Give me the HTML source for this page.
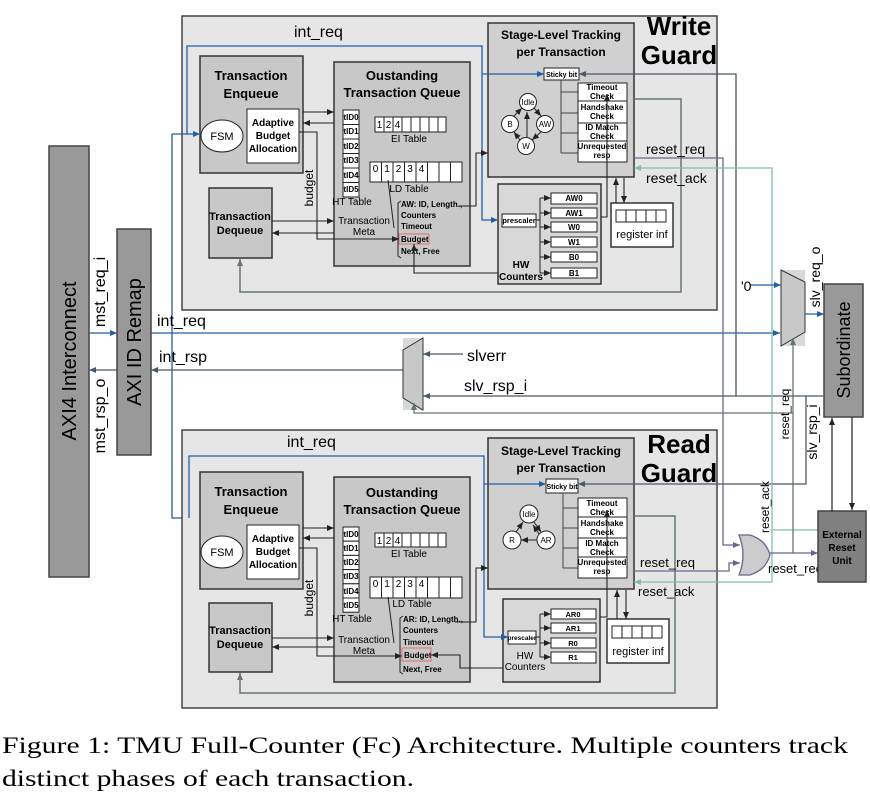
<!DOCTYPE html>
<html><head><meta charset="utf-8"><style>
html,body{margin:0;padding:0;background:#fff;}
svg{display:block;font-family:"Liberation Sans",sans-serif;}
.b{font-weight:bold;}
.cap{font-family:"Liberation Serif",serif;}
</style></head><body>
<svg width="870" height="800" viewBox="0 0 870 800" xmlns="http://www.w3.org/2000/svg">
<defs>
<marker id="ak" markerWidth="8" markerHeight="8" refX="7" refY="4" orient="auto" markerUnits="userSpaceOnUse"><path d="M0,1 L7,4 L0,7 Z" fill="#222"/></marker>
<marker id="ab" markerWidth="8" markerHeight="8" refX="7" refY="4" orient="auto" markerUnits="userSpaceOnUse"><path d="M0,1 L7,4 L0,7 Z" fill="#1f5fa8"/></marker>
<marker id="as" markerWidth="8" markerHeight="8" refX="7" refY="4" orient="auto" markerUnits="userSpaceOnUse"><path d="M0,1 L7,4 L0,7 Z" fill="#4a5868"/></marker>
<marker id="ag" markerWidth="8" markerHeight="8" refX="7" refY="4" orient="auto" markerUnits="userSpaceOnUse"><path d="M0,1 L7,4 L0,7 Z" fill="#66766f"/></marker>
<marker id="ap" markerWidth="8" markerHeight="8" refX="7" refY="4" orient="auto" markerUnits="userSpaceOnUse"><path d="M0,1 L7,4 L0,7 Z" fill="#6b6390"/></marker>
<marker id="at" markerWidth="8" markerHeight="8" refX="7" refY="4" orient="auto" markerUnits="userSpaceOnUse"><path d="M0,1 L7,4 L0,7 Z" fill="#7fbfb0"/></marker>
</defs>

<!-- ===== WRITE GUARD ===== -->
<rect x="182" y="16" width="535" height="294" fill="#e6e6e6" stroke="#444" stroke-width="1.5"/>
<text x="679" y="35" font-size="26" class="b" text-anchor="middle">Write</text>
<text x="679" y="64" font-size="26" class="b" text-anchor="middle">Guard</text>
<text x="294" y="37" font-size="16">int_req</text>

<rect x="200" y="56" width="103" height="117" fill="#c8c8c8" stroke="#333" stroke-width="1.5"/>
<text x="251" y="80" font-size="13" class="b" text-anchor="middle">Transaction</text>
<text x="251" y="98" font-size="13" class="b" text-anchor="middle">Enqueue</text>
<ellipse cx="222" cy="136" rx="21" ry="16" fill="#fff" stroke="#222"/>
<text x="222" y="140" font-size="11" text-anchor="middle">FSM</text>
<rect x="247" y="109" width="52" height="54" fill="#fff" stroke="#222"/>
<text x="273" y="126" font-size="10" class="b" text-anchor="middle">Adaptive</text>
<text x="273" y="139" font-size="10" class="b" text-anchor="middle">Budget</text>
<text x="273" y="152" font-size="10" class="b" text-anchor="middle">Allocation</text>

<rect x="209" y="188" width="63" height="70" fill="#c8c8c8" stroke="#333" stroke-width="1.5"/>
<text x="240" y="220" font-size="11" class="b" text-anchor="middle">Transaction</text>
<text x="240" y="234" font-size="11" class="b" text-anchor="middle">Dequeue</text>

<rect x="334" y="62" width="136" height="204" fill="#c8c8c8" stroke="#333" stroke-width="1.5"/>
<text x="402" y="80" font-size="13" class="b" text-anchor="middle">Oustanding</text>
<text x="402" y="97" font-size="13" class="b" text-anchor="middle">Transaction Queue</text>
<g fill="#fff" stroke="#222">
<rect x="343" y="110" width="16" height="14.5"/><rect x="343" y="124.5" width="16" height="14.5"/><rect x="343" y="139" width="16" height="14.5"/><rect x="343" y="153.5" width="16" height="14.5"/><rect x="343" y="168" width="16" height="14.5"/><rect x="343" y="182.5" width="16" height="14.5"/>
</g>
<g font-size="8" class="b" text-anchor="middle"><text x="351" y="120">tID0</text><text x="351" y="134">tID1</text><text x="351" y="149">tID2</text><text x="351" y="163">tID3</text><text x="351" y="178">tID4</text><text x="351" y="192">tID5</text></g>
<text x="352" y="205" font-size="10" text-anchor="middle">HT Table</text>
<g fill="#fff" stroke="#222"><rect x="375" y="117" width="71" height="15"/></g>
<g stroke="#222"><line x1="384" y1="117" x2="384" y2="132"/><line x1="393" y1="117" x2="393" y2="132"/><line x1="402" y1="117" x2="402" y2="132"/><line x1="411" y1="117" x2="411" y2="132"/><line x1="420" y1="117" x2="420" y2="132"/><line x1="429" y1="117" x2="429" y2="132"/><line x1="438" y1="117" x2="438" y2="132"/></g>
<g font-size="10" text-anchor="middle"><text x="379.5" y="128">1</text><text x="388.5" y="128">2</text><text x="397.5" y="128">4</text></g>
<text x="409" y="142" font-size="10" text-anchor="middle">EI Table</text>
<rect x="370" y="162" width="92" height="20" fill="#fff" stroke="#222"/>
<g stroke="#222"><line x1="381.5" y1="162" x2="381.5" y2="182"/><line x1="393" y1="162" x2="393" y2="182"/><line x1="404.5" y1="162" x2="404.5" y2="182"/><line x1="416" y1="162" x2="416" y2="182"/><line x1="427.5" y1="162" x2="427.5" y2="182"/><line x1="439" y1="162" x2="439" y2="182"/><line x1="450.5" y1="162" x2="450.5" y2="182"/></g>
<g font-size="10" text-anchor="middle"><text x="375.5" y="172">0</text><text x="387" y="172">1</text><text x="398.5" y="172">2</text><text x="410" y="172">3</text><text x="421.5" y="172">4</text></g>
<text x="409" y="192" font-size="10" text-anchor="middle">LD Table</text>
<text x="364" y="224" font-size="10" text-anchor="middle">Transaction</text>
<text x="364" y="235" font-size="10" text-anchor="middle">Meta</text>
<g font-size="8" class="b"><text x="401" y="207">AW: ID, Length.,</text><text x="401" y="218">Counters</text><text x="401" y="229">Timeout</text><text x="401" y="242">Budget</text><text x="401" y="254">Next, Free</text></g>
<rect x="399" y="234" width="30" height="10" fill="none" stroke="#e07070"/>
<path d="M401,201 L398,203 L398,256 L401,258" fill="none" stroke="#222"/>
<line x1="388" y1="180" x2="394" y2="228" stroke="#222"/>

<rect x="488" y="23" width="146" height="154" fill="#d0d0d0" stroke="#333" stroke-width="1.5"/>
<text x="561" y="39" font-size="12" class="b" text-anchor="middle">Stage-Level Tracking</text>
<text x="561" y="56" font-size="12" class="b" text-anchor="middle">per Transaction</text>
<rect x="544" y="68" width="35" height="12" fill="#fff" stroke="#222"/>
<text x="561.5" y="77" font-size="7" class="b" text-anchor="middle">Sticky bit</text>
<g stroke="#444" fill="none"><path d="M561,80 L561,153"/><line x1="561" y1="92" x2="578" y2="92"/><line x1="561" y1="113" x2="578" y2="113"/><line x1="561" y1="133" x2="578" y2="133"/><line x1="561" y1="153" x2="578" y2="153"/></g>
<g fill="#fff" stroke="#222"><rect x="578" y="83" width="49" height="18"/><rect x="578" y="101" width="49" height="22"/><rect x="578" y="123" width="49" height="18"/><rect x="578" y="141" width="49" height="21"/></g>
<g font-size="8" class="b" text-anchor="middle"><text x="602" y="90">Timeout</text><text x="602" y="99">Check</text><text x="602" y="110">Handshake</text><text x="602" y="119">Check</text><text x="602" y="130">ID Match</text><text x="602" y="139">Check</text><text x="602" y="149">Unrequested</text><text x="602" y="158">resp</text></g>
<g stroke="#222" fill="#fff"><circle cx="528" cy="102" r="8.5"/><circle cx="510" cy="124" r="8.5"/><circle cx="545" cy="124" r="8.5"/><circle cx="526" cy="146" r="8.5"/></g>
<g font-size="8" text-anchor="middle"><text x="528" y="105">Idle</text><text x="510" y="127">B</text><text x="545" y="127">AW</text><text x="526" y="149">W</text></g>
<g stroke="#222" fill="none" marker-end="url(#ak)"><line x1="514" y1="116" x2="522" y2="108"/><line x1="534" y1="108" x2="541" y2="116"/><line x1="541" y1="132" x2="532" y2="140"/><line x1="520" y1="140" x2="514" y2="132"/><line x1="527" y1="137" x2="527" y2="112"/></g>

<rect x="498" y="184" width="103" height="100" fill="#d8d8d8" stroke="#333" stroke-width="1.5"/>
<text x="521" y="268" font-size="10" class="b" text-anchor="middle">HW</text>
<text x="521" y="280" font-size="10" class="b" text-anchor="middle">Counters</text>
<g fill="#fff" stroke="#222"><rect x="551" y="193" width="46" height="11"/><rect x="551" y="208" width="46" height="10"/><rect x="551" y="222" width="46" height="10"/><rect x="551" y="237" width="46" height="10"/><rect x="551" y="252" width="46" height="10"/><rect x="551" y="268" width="46" height="10"/></g>
<g font-size="8" class="b" text-anchor="middle"><text x="574" y="201">AW0</text><text x="574" y="216">AW1</text><text x="574" y="230">W0</text><text x="574" y="245">W1</text><text x="574" y="260">B0</text><text x="574" y="276">B1</text></g>
<rect x="502" y="214" width="34" height="13" fill="#fff" stroke="#222"/>
<text x="519" y="223" font-size="7.5" class="b" text-anchor="middle">prescaler</text>
<g stroke="#222" fill="none"><line x1="536" y1="220" x2="540" y2="220"/><line x1="540" y1="198" x2="540" y2="273"/></g>
<g stroke="#222" marker-end="url(#ak)"><line x1="540" y1="198" x2="551" y2="198"/><line x1="540" y1="213" x2="551" y2="213"/><line x1="540" y1="227" x2="551" y2="227"/><line x1="540" y1="242" x2="551" y2="242"/><line x1="540" y1="257" x2="551" y2="257"/><line x1="540" y1="273" x2="551" y2="273"/></g>
<rect x="611" y="203" width="62" height="44" fill="#fff" stroke="#333" stroke-width="1.5"/>
<rect x="616" y="210" width="50" height="12" fill="#fff" stroke="#222"/>
<g stroke="#222"><line x1="626" y1="210" x2="626" y2="222"/><line x1="636" y1="210" x2="636" y2="222"/><line x1="646" y1="210" x2="646" y2="222"/><line x1="656" y1="210" x2="656" y2="222"/></g>
<text x="642" y="238" font-size="11" text-anchor="middle">register inf</text>

<!-- write connectors -->
<g fill="none" stroke="#1f5fa8" stroke-width="1.3">
<path d="M187,134 L187,46 L482,46 L482,220 L498,220" marker-end="url(#ab)"/>
<path d="M482,74 L544,74" marker-end="url(#ab)"/>
<path d="M172,134 L200,134" marker-end="url(#ab)"/>
<path d="M172,134 L172,518 L200,518" marker-end="url(#ab)"/>
</g>
<g fill="none" stroke="#222" stroke-width="1.1">
<path d="M303,112 L334,112" marker-end="url(#ak)"/>
<path d="M334,123 L303,123" marker-end="url(#ak)"/>
<path d="M299,132 L317,132 L317,239 L399,239" marker-end="url(#ak)"/>
<path d="M272,221 L334,221" marker-end="url(#ak)"/>
<path d="M334,233 L272,233" marker-end="url(#ak)"/>
<path d="M459,206 L476,206 L476,153 L488,153" marker-end="url(#ak)"/>
<path d="M498,273 L414,273 L414,244" marker-end="url(#ak)"/>
<path d="M601,217 L607,217 L607,94" marker-end="url(#ak)"/>
<path d="M616,203 L616,178" marker-end="url(#ak)"/>
<path d="M624,178 L624,203" marker-end="url(#ak)"/>
</g>
<text transform="translate(313,188) rotate(-90)" font-size="12" text-anchor="middle">budget</text>
<path d="M634,99 L681,99 L681,292 L240,292 L240,259" fill="none" stroke="#66766f" stroke-width="1.5" marker-end="url(#ag)"/>

<!-- ===== READ GUARD ===== -->
<rect x="182" y="430" width="535" height="278" fill="#e6e6e6" stroke="#444" stroke-width="1.5"/>
<text x="679" y="453" font-size="26" class="b" text-anchor="middle">Read</text>
<text x="679" y="482" font-size="26" class="b" text-anchor="middle">Guard</text>
<text x="287" y="447" font-size="16">int_req</text>

<rect x="200" y="472" width="103" height="117" fill="#c8c8c8" stroke="#333" stroke-width="1.5"/>
<text x="251" y="496" font-size="13" class="b" text-anchor="middle">Transaction</text>
<text x="251" y="514" font-size="13" class="b" text-anchor="middle">Enqueue</text>
<ellipse cx="222" cy="552" rx="21" ry="16" fill="#fff" stroke="#222"/>
<text x="222" y="556" font-size="11" text-anchor="middle">FSM</text>
<rect x="247" y="525" width="52" height="54" fill="#fff" stroke="#222"/>
<text x="273" y="542" font-size="10" class="b" text-anchor="middle">Adaptive</text>
<text x="273" y="555" font-size="10" class="b" text-anchor="middle">Budget</text>
<text x="273" y="568" font-size="10" class="b" text-anchor="middle">Allocation</text>

<rect x="209" y="603" width="63" height="69" fill="#c8c8c8" stroke="#333" stroke-width="1.5"/>
<text x="240" y="634" font-size="11" class="b" text-anchor="middle">Transaction</text>
<text x="240" y="648" font-size="11" class="b" text-anchor="middle">Dequeue</text>

<rect x="334" y="477" width="136" height="205" fill="#c8c8c8" stroke="#333" stroke-width="1.5"/>
<text x="402" y="497" font-size="13" class="b" text-anchor="middle">Oustanding</text>
<text x="402" y="514" font-size="13" class="b" text-anchor="middle">Transaction Queue</text>
<g fill="#fff" stroke="#222">
<rect x="343" y="527" width="16" height="14.2"/><rect x="343" y="541.2" width="16" height="14.2"/><rect x="343" y="555.4" width="16" height="14.2"/><rect x="343" y="569.6" width="16" height="14.2"/><rect x="343" y="583.8" width="16" height="14.2"/><rect x="343" y="598" width="16" height="14.2"/>
</g>
<g font-size="8" class="b" text-anchor="middle"><text x="351" y="537">tID0</text><text x="351" y="551">tID1</text><text x="351" y="565">tID2</text><text x="351" y="579">tID3</text><text x="351" y="594">tID4</text><text x="351" y="608">tID5</text></g>
<text x="352" y="622" font-size="10" text-anchor="middle">HT Table</text>
<rect x="375" y="533" width="71" height="14" fill="#fff" stroke="#222"/>
<g stroke="#222"><line x1="384" y1="533" x2="384" y2="547"/><line x1="393" y1="533" x2="393" y2="547"/><line x1="402" y1="533" x2="402" y2="547"/><line x1="411" y1="533" x2="411" y2="547"/><line x1="420" y1="533" x2="420" y2="547"/><line x1="429" y1="533" x2="429" y2="547"/><line x1="438" y1="533" x2="438" y2="547"/></g>
<g font-size="10" text-anchor="middle"><text x="379.5" y="544">1</text><text x="388.5" y="544">2</text><text x="397.5" y="544">4</text></g>
<text x="409" y="557" font-size="10" text-anchor="middle">EI Table</text>
<rect x="370" y="577" width="92" height="21" fill="#fff" stroke="#222"/>
<g stroke="#222"><line x1="381.5" y1="577" x2="381.5" y2="598"/><line x1="393" y1="577" x2="393" y2="598"/><line x1="404.5" y1="577" x2="404.5" y2="598"/><line x1="416" y1="577" x2="416" y2="598"/><line x1="427.5" y1="577" x2="427.5" y2="598"/><line x1="439" y1="577" x2="439" y2="598"/><line x1="450.5" y1="577" x2="450.5" y2="598"/></g>
<g font-size="10" text-anchor="middle"><text x="375.5" y="587">0</text><text x="387" y="587">1</text><text x="398.5" y="587">2</text><text x="410" y="587">3</text><text x="421.5" y="587">4</text></g>
<text x="412" y="607" font-size="10" text-anchor="middle">LD Table</text>
<text x="364" y="643" font-size="10" text-anchor="middle">Transaction</text>
<text x="364" y="654" font-size="10" text-anchor="middle">Meta</text>
<g font-size="8" class="b"><text x="403" y="622">AR: ID, Length.,</text><text x="403" y="633">Counters</text><text x="403" y="645">Timeout</text><text x="404" y="658">Budget</text><text x="403" y="672">Next, Free</text></g>
<rect x="402" y="648" width="29" height="13" fill="none" stroke="#e07070"/>
<path d="M403,616 L400,618 L400,672 L403,674" fill="none" stroke="#222"/>
<line x1="388" y1="597" x2="394" y2="643" stroke="#222"/>

<rect x="488" y="438" width="146" height="151" fill="#d0d0d0" stroke="#333" stroke-width="1.5"/>
<text x="561" y="455" font-size="12" class="b" text-anchor="middle">Stage-Level Tracking</text>
<text x="561" y="472" font-size="12" class="b" text-anchor="middle">per Transaction</text>
<rect x="546" y="479" width="32" height="14" fill="#fff" stroke="#222"/>
<text x="562" y="489" font-size="7" class="b" text-anchor="middle">Sticky bit</text>
<g stroke="#444" fill="none"><path d="M563,493 L563,568"/><line x1="563" y1="508" x2="578" y2="508"/><line x1="563" y1="528" x2="578" y2="528"/><line x1="563" y1="548" x2="578" y2="548"/><line x1="563" y1="568" x2="578" y2="568"/></g>
<g fill="#fff" stroke="#222"><rect x="578" y="498" width="49" height="19"/><rect x="578" y="517" width="49" height="21"/><rect x="578" y="538" width="49" height="19"/><rect x="578" y="557" width="49" height="21"/></g>
<g font-size="8" class="b" text-anchor="middle"><text x="602" y="506">Timeout</text><text x="602" y="515">Check</text><text x="602" y="526">Handshake</text><text x="602" y="535">Check</text><text x="602" y="546">ID Match</text><text x="602" y="555">Check</text><text x="602" y="565">Unrequested</text><text x="602" y="574">resp</text></g>
<g stroke="#222" fill="#fff"><circle cx="529" cy="514" r="9"/><circle cx="512" cy="540" r="9"/><circle cx="546" cy="540" r="9"/></g>
<g font-size="8" text-anchor="middle"><text x="529" y="517">Idle</text><text x="512" y="543">R</text><text x="546" y="543">AR</text></g>
<g stroke="#222" fill="none" marker-end="url(#ak)"><line x1="516" y1="532" x2="523" y2="522"/><line x1="534" y1="522" x2="541" y2="532"/><line x1="539" y1="534" x2="533" y2="525"/><line x1="537" y1="540" x2="521" y2="540"/></g>

<rect x="503" y="599" width="97" height="83" fill="#d8d8d8" stroke="#333" stroke-width="1.5"/>
<text x="525" y="659" font-size="10" text-anchor="middle">HW</text>
<text x="525" y="670" font-size="10" text-anchor="middle">Counters</text>
<g fill="#fff" stroke="#222"><rect x="551" y="609" width="45" height="10"/><rect x="551" y="623" width="45" height="10"/><rect x="551" y="638" width="45" height="10"/><rect x="551" y="652" width="45" height="11"/></g>
<g font-size="7.5" class="b" text-anchor="middle"><text x="573" y="617">AR0</text><text x="573" y="631">AR1</text><text x="573" y="646">R0</text><text x="573" y="660">R1</text></g>
<rect x="508" y="631" width="28" height="13" fill="#fff" stroke="#222"/>
<text x="522" y="640" font-size="6.5" class="b" text-anchor="middle">prescaler</text>
<g stroke="#222" fill="none"><line x1="536" y1="637" x2="540" y2="637"/><line x1="540" y1="614" x2="540" y2="657"/></g>
<g stroke="#222" marker-end="url(#ak)"><line x1="540" y1="614" x2="551" y2="614"/><line x1="540" y1="628" x2="551" y2="628"/><line x1="540" y1="643" x2="551" y2="643"/><line x1="540" y1="657" x2="551" y2="657"/></g>
<rect x="607" y="619" width="62" height="44" fill="#fff" stroke="#333" stroke-width="1.5"/>
<rect x="612" y="626" width="50" height="12" fill="#fff" stroke="#222"/>
<g stroke="#222"><line x1="622" y1="626" x2="622" y2="638"/><line x1="632" y1="626" x2="632" y2="638"/><line x1="642" y1="626" x2="642" y2="638"/><line x1="652" y1="626" x2="652" y2="638"/></g>
<text x="638" y="655" font-size="11" text-anchor="middle">register inf</text>

<!-- read connectors -->
<g fill="none" stroke="#1f5fa8" stroke-width="1.3">
<path d="M189,518 L189,456 L484,456 L484,637 L508,637" marker-end="url(#ab)"/>
<path d="M484,484 L546,484" marker-end="url(#ab)"/>
</g>
<g fill="none" stroke="#222" stroke-width="1.1">
<path d="M303,528 L334,528" marker-end="url(#ak)"/>
<path d="M334,538 L303,538" marker-end="url(#ak)"/>
<path d="M299,548 L317,548 L317,656 L402,656" marker-end="url(#ak)"/>
<path d="M272,638 L334,638" marker-end="url(#ak)"/>
<path d="M334,647 L272,647" marker-end="url(#ak)"/>
<path d="M455,622 L476,622 L476,568 L488,568" marker-end="url(#ak)"/>
<path d="M503,668 L460,668 L460,655 L431,655" marker-end="url(#ak)"/>
<path d="M600,617 L607,617 L607,510" marker-end="url(#ak)"/>
<path d="M617,619 L617,590" marker-end="url(#ak)"/>
<path d="M626,590 L626,619" marker-end="url(#ak)"/>
</g>
<text transform="translate(313,598) rotate(-90)" font-size="12" text-anchor="middle">budget</text>
<path d="M634,516 L675,516 L675,693 L240,693 L240,673" fill="none" stroke="#66766f" stroke-width="1.5" marker-end="url(#ag)"/>

<!-- ===== LEFT ===== -->
<rect x="49" y="146" width="40" height="431" fill="#999" stroke="#444" stroke-width="1.5"/>
<text transform="translate(76,361) rotate(-90)" font-size="20" text-anchor="middle">AXI4  Interconnect</text>
<rect x="117" y="229" width="34" height="226" fill="#999" stroke="#444" stroke-width="1.5"/>
<text transform="translate(141,342) rotate(-90)" font-size="20" text-anchor="middle">AXI ID Remap</text>
<text transform="translate(105,292) rotate(-90)" font-size="16" text-anchor="middle">mst_req_i</text>
<text transform="translate(105,416) rotate(-90)" font-size="16" text-anchor="middle">mst_rsp_o</text>
<path d="M89,333 L117,333" stroke="#1f5fa8" stroke-width="1.3" marker-end="url(#ab)"/>
<path d="M117,370 L89,370" stroke="#4a5868" stroke-width="1.3" marker-end="url(#as)"/>
<path d="M151,333 L780,333" stroke="#1f5fa8" stroke-width="1.3" marker-end="url(#ab)"/>
<text x="157" y="326" font-size="16">int_req</text>
<path d="M403,370 L151,370" stroke="#4a5868" stroke-width="1.3" marker-end="url(#as)"/>
<text x="159" y="362" font-size="16">int_rsp</text>

<!-- response mux -->
<rect x="403" y="338" width="20" height="72" fill="#d8d8d8"/>
<polygon points="423,338 423,410 403,398 403,350" fill="#c8c8c8" stroke="#333"/>
<path d="M463,354 L423,354" stroke="#4a5868" stroke-width="1.3" marker-end="url(#as)"/>
<text x="467" y="361" font-size="16">slverr</text>
<path d="M823,396 L423,396" stroke="#4a5868" stroke-width="1.3" marker-end="url(#as)"/>
<text x="464" y="391" font-size="16">slv_rsp_i</text>
<path d="M736,396 L736,74 L579,74" fill="none" stroke="#4a5868" stroke-width="1.3" marker-end="url(#as)"/>
<path d="M806,396 L806,484 L578,484" fill="none" stroke="#4a5868" stroke-width="1.3" marker-end="url(#as)"/>

<!-- reset lines -->
<path d="M634,158 L723,158 L723,545 L740,545" fill="none" stroke="#6b6390" stroke-width="1.3" marker-end="url(#ap)"/>
<path d="M634,571 L729,571 L729,563 L740,563" fill="none" stroke="#6b6390" stroke-width="1.3" marker-end="url(#ap)"/>
<path d="M772,530 L772,168 L634,168" fill="none" stroke="#7fbfb0" stroke-width="1.3" marker-end="url(#at)"/>
<path d="M772,530 L772,582 L634,582" fill="none" stroke="#7fbfb0" stroke-width="1.3" marker-end="url(#at)"/>
<path d="M818,530 L772,530" fill="none" stroke="#7fbfb0" stroke-width="1.3"/>
<text x="646" y="154" font-size="14">reset_req</text>
<text x="646" y="183" font-size="14">reset_ack</text>
<text x="640" y="567" font-size="13">reset_req</text>
<text x="638" y="596" font-size="13">reset_ack</text>

<!-- write mux -->
<rect x="781" y="270" width="24" height="76" fill="#d8d8d8"/>
<polygon points="781,270 805,282 805,332 781,346" fill="#c8c8c8" stroke="#333"/>
<path d="M750,285 L781,285" stroke="#1f5fa8" stroke-width="1.3" marker-end="url(#ab)"/>
<text x="741" y="291" font-size="14">'0</text>
<path d="M805,314 L824,314" stroke="#1f5fa8" stroke-width="1.3" marker-end="url(#ab)"/>
<path d="M793,553 L793,338" fill="none" stroke="#66766f" stroke-width="1.3" marker-end="url(#ag)"/>
<path d="M793,413 L414,413 L414,403" fill="none" stroke="#66766f" stroke-width="1.3" marker-end="url(#ag)"/>

<!-- OR gate -->
<path d="M739,535 L750,535 Q766,540 770,555 Q766,570 750,575 L739,575 Q747,555 739,535 Z" fill="#ccc" stroke="#6b6390" stroke-width="1.3"/>
<path d="M770,553 L818,553" stroke="#6b6390" stroke-width="1.3" marker-end="url(#ap)"/>
<text x="768" y="573" font-size="13">reset_req</text>

<!-- subordinate + ERU -->
<rect x="824" y="284" width="39" height="133" fill="#999" stroke="#444" stroke-width="1.5"/>
<text transform="translate(850,350) rotate(-90)" font-size="18" text-anchor="middle">Subordinate</text>
<rect x="818" y="511" width="48" height="71" fill="#808080" stroke="#444" stroke-width="1.5"/>
<g font-size="10" class="b" text-anchor="middle"><text x="842" y="538">External</text><text x="842" y="551">Reset</text><text x="842" y="564">Unit</text></g>
<path d="M832,511 L832,418" stroke="#222" stroke-width="1.2" marker-end="url(#ak)"/>
<path d="M852,417 L852,510" stroke="#222" stroke-width="1.2" marker-end="url(#ak)"/>
<text transform="translate(820,277) rotate(-90)" font-size="14" text-anchor="middle">slv_req_o</text>
<text transform="translate(817,432) rotate(-90)" font-size="14" text-anchor="middle">slv_rsp_i</text>
<text transform="translate(789,414) rotate(-90)" font-size="12" text-anchor="middle">reset_req</text>
<text transform="translate(769,507) rotate(-90)" font-size="12" text-anchor="middle">reset_ack</text>

<!-- caption -->
<text x="2" y="753" class="cap" style="font-family:'Liberation Serif',serif" font-size="23" textLength="846" lengthAdjust="spacingAndGlyphs">Figure 1: TMU Full-Counter (Fc) Architecture. Multiple counters track</text>
<text x="2" y="786" class="cap" style="font-family:'Liberation Serif',serif" font-size="23" textLength="412" lengthAdjust="spacingAndGlyphs">distinct phases of each transaction.</text>
</svg>
</body></html>
